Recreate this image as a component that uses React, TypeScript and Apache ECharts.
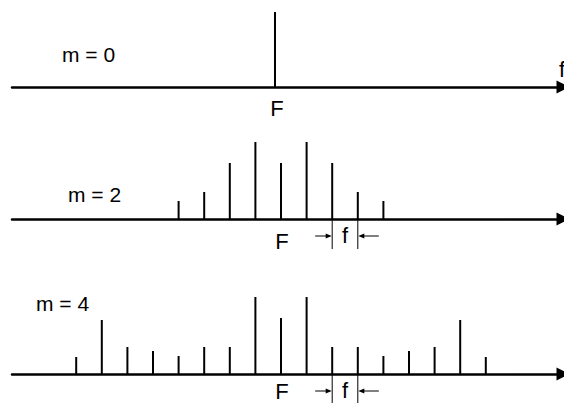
import React, { useEffect, useRef } from 'react';
import * as echarts from 'echarts';

// Spectral line orders (multiples of the modulation frequency f around the carrier F)
// and their relative amplitudes, for modulation indices m = 0, 2 and 4.
const carrierOrders = [0];
const carrierAmplitudes = [75];

const m2Orders = [-4, -3, -2, -1, 0, 1, 2, 3, 4];
const m2Amplitudes = [18, 27, 56, 77, 56, 77, 56, 27, 18];

const m4Orders = [-8, -7, -6, -5, -4, -3, -2, -1, 0, 1, 2, 3, 4, 5, 6, 7, 8];
const m4Amplitudes = [17, 54, 27, 23, 18, 27, 27, 77, 56, 77, 27, 27, 18, 23, 27, 54, 17];

const panelLabels = ['m = 0', 'm = 2', 'm = 4'];
const carrierLabel = 'F';
const spacingLabel = 'f';
const frequencyAxisName = 'f';
// the two neighbouring lines between which the spacing f is marked
const spacingPair = [2, 3];

const W = 564;
const H = 403;
const FONT = '"Liberation Sans", Arial, sans-serif';
const PX_PER_ORDER = 25.6;
const AXIS_LEFT = 12;
const AXIS_END = 563;
const PLOT_H = 80;

const panels = [
  { orders: carrierOrders, amps: carrierAmplitudes, axisY: 87, centerX: 275, labelX: 62, labelY: 54, fDy: 21, bracket: false },
  { orders: m2Orders, amps: m2Amplitudes, axisY: 219, centerX: 281, labelX: 68, labelY: 194, fDy: 22, bracket: true },
  { orders: m4Orders, amps: m4Amplitudes, axisY: 374, centerX: 281, labelX: 36, labelY: 303, fDy: 17, bracket: true },
];

export default function App() {
  const ref = useRef<HTMLDivElement>(null);

  useEffect(() => {
    if (!ref.current) return;
    const chart = echarts.init(ref.current, null, { renderer: 'svg' });

    const grid = panels.map((p) => ({
      left: AXIS_LEFT,
      right: W - AXIS_END,
      top: p.axisY - PLOT_H,
      height: PLOT_H,
    }));

    const xAxis = panels.map((p, i) => ({
      type: 'value',
      gridIndex: i,
      min: (AXIS_LEFT - p.centerX) / PX_PER_ORDER,
      max: (AXIS_END - p.centerX) / PX_PER_ORDER,
      axisLine: {
        show: true,
        onZero: false,
        symbol: ['none', 'triangle'],
        symbolSize: [13, 13],
        lineStyle: { color: '#000', width: 2.5 },
      },
      axisTick: { show: false },
      axisLabel: { show: false },
      splitLine: { show: false },
    }));

    const yAxis = panels.map((_, i) => ({
      type: 'value',
      gridIndex: i,
      min: 0,
      max: PLOT_H,
      show: false,
      splitLine: { show: false },
    }));

    const series: any[] = panels.map((p, i) => ({
      type: 'custom',
      xAxisIndex: i,
      yAxisIndex: i,
      clip: false,
      data: p.orders.map((o, j) => [o, p.amps[j]]),
      renderItem: (_params: any, api: any) => {
        const base = api.coord([api.value(0), 0]);
        const top = api.coord([api.value(0), api.value(1)]);
        return {
          type: 'line',
          shape: { x1: base[0], y1: base[1], x2: top[0], y2: top[1] },
          style: { stroke: '#000', lineWidth: 2 },
        };
      },
    }));

    // spacing bracket "→| f |←" under two neighbouring lines
    panels.forEach((p, i) => {
      if (!p.bracket) return;
      series.push({
        type: 'custom',
        xAxisIndex: i,
        yAxisIndex: i,
        clip: false,
        silent: true,
        data: [spacingPair],
        renderItem: (_params: any, api: any) => {
          const a = api.coord([api.value(0), 0]);
          const b = api.coord([api.value(1), 0]);
          const y0 = a[1];
          const ya = y0 + 17;
          const thin = { stroke: '#000', lineWidth: 1 };
          return {
            type: 'group',
            children: [
              { type: 'line', shape: { x1: a[0], y1: y0, x2: a[0], y2: y0 + 30 }, style: thin },
              { type: 'line', shape: { x1: b[0], y1: y0, x2: b[0], y2: y0 + 30 }, style: thin },
              { type: 'line', shape: { x1: a[0] - 17, y1: ya, x2: a[0] - 4, y2: ya }, style: thin },
              {
                type: 'polygon',
                shape: { points: [[a[0] - 0.5, ya], [a[0] - 6.5, ya - 2.5], [a[0] - 6.5, ya + 2.5]] },
                style: { fill: '#000' },
              },
              { type: 'line', shape: { x1: b[0] + 21, y1: ya, x2: b[0] + 4, y2: ya }, style: thin },
              {
                type: 'polygon',
                shape: { points: [[b[0] + 0.5, ya], [b[0] + 6.5, ya - 2.5], [b[0] + 6.5, ya + 2.5]] },
                style: { fill: '#000' },
              },
              {
                type: 'text',
                x: (a[0] + b[0]) / 2,
                y: ya - 1,
                style: {
                  text: spacingLabel,
                  font: `22px ${FONT}`,
                  fill: '#000',
                  align: 'center',
                  verticalAlign: 'middle',
                },
              },
            ],
          };
        },
      });
    });

    const graphic: any[] = [];
    panels.forEach((p, i) => {
      graphic.push({
        type: 'text',
        x: p.labelX,
        y: p.labelY,
        style: { text: panelLabels[i], font: `21px ${FONT}`, fill: '#000', align: 'left', verticalAlign: 'middle' },
      });
      graphic.push({
        type: 'text',
        x: p.centerX + (i === 0 ? 2 : 1),
        y: p.axisY + p.fDy,
        style: { text: carrierLabel, font: `22px ${FONT}`, fill: '#000', align: 'center', verticalAlign: 'middle' },
      });
    });
    graphic.push({
      type: 'text',
      x: 559,
      y: 69,
      style: { text: frequencyAxisName, font: `22px ${FONT}`, fill: '#000', align: 'left', verticalAlign: 'middle' },
    });

    chart.setOption({
      animation: false,
      backgroundColor: '#fff',
      grid,
      xAxis,
      yAxis,
      series,
      graphic,
    });

    return () => chart.dispose();
  }, []);

  return (
    <div
      ref={ref}
      style={{ position: 'fixed', left: 0, top: 0, width: W, height: H, background: '#fff' }}
    />
  );
}
